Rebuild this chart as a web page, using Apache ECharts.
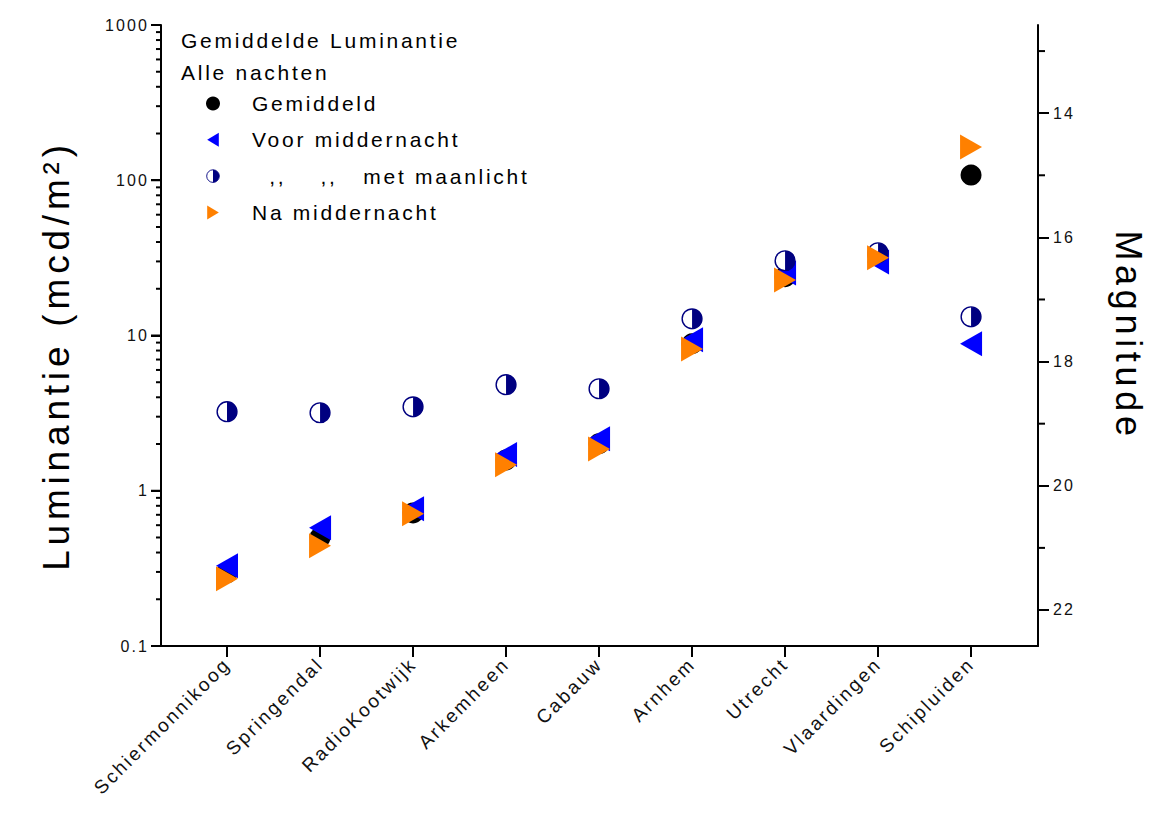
<!DOCTYPE html>
<html>
<head>
<meta charset="utf-8">
<script src="https://cdn.jsdelivr.net/npm/echarts@6/dist/echarts.min.js"></script>
<style>
html,body{margin:0;padding:0;background:#fff;}
#chart{width:1157px;height:815px;}
#chart text{letter-spacing:0.13em;white-space:pre;}
</style>
</head>
<body>
<div id="chart"></div>
<script>
// ---- data ----
const categories = ['Schiermonnikoog','Springendal','RadioKootwijk','Arkemheen','Cabauw','Arnhem','Utrecht','Vlaardingen','Schipluiden'];
const gemiddeld       = [0.296, 0.50, 0.72, 1.58, 2.01, 8.85, 23.9, 32.6, 108];
const voorMiddernacht = [0.329, 0.578, 0.766, 1.71, 2.16, 9.38, 25.3, 29.8, 8.85];
const metMaanlicht    = [3.23, 3.18, 3.47, 4.82, 4.54, 12.8, 30.3, 34.1, 13.2];
const naMiddernacht   = [0.271, 0.443, 0.711, 1.47, 1.86, 8.2, 22.8, 31.7, 164];
const lumTicks = [0.1, 1, 10, 100, 1000];
const lumMinorTicks = [0.2,0.3,0.4,0.5,0.6,0.7,0.8,0.9, 2,3,4,5,6,7,8,9, 20,30,40,50,60,70,80,90, 200,300,400,500,600,700,800,900];
const magLabels = [14, 16, 18, 20, 22];
const magMinorTicks = [13, 15, 17, 19, 21];
const seriesNames = ['Gemiddeld', 'Voor middernacht', '  ,,    ,,   met maanlicht', 'Na middernacht'];

const X_MIN = 0.29, X_MAX = 9.72;
const MAG_MIN = 12.58, MAG_MAX = 22.58;
const xPositions = categories.map((c, i) => i + 1);
const pairs = arr => arr.map((v, i) => [xPositions[i], v]);

const moonSvg = '<svg xmlns="http://www.w3.org/2000/svg" width="40" height="40" viewBox="0 0 40 40">' +
  '<circle cx="20" cy="20" r="18" fill="#ffffff" stroke="#000080" stroke-width="2.6"/>' +
  '<path d="M20 2 A18 18 0 0 1 20 38 Z" fill="#000080"/></svg>';
const moonSymbol = 'image://data:image/svg+xml;charset=utf-8,' + encodeURIComponent(moonSvg);
const leftTri = 'path://M20,0 L0,12 L20,24 Z';
const rightTri = 'path://M0,0 L20,12 L0,24 Z';

const FONT = '"Liberation Sans", Arial, sans-serif';
const line = () => ({color: '#000', width: 2});
const chart = echarts.init(document.getElementById('chart'), null, {renderer: 'svg'});

chart.setOption({
  animation: false,
  backgroundColor: '#fff',
  textStyle: {fontFamily: FONT},
  title: [
    {text: 'Gemiddelde Luminantie', left: 181, top: 30, padding: 0,
     textStyle: {fontSize: 21, fontWeight: 'normal', color: '#000', fontFamily: FONT}},
    {text: 'Alle nachten', left: 181, top: 62, padding: 0,
     textStyle: {fontSize: 21, fontWeight: 'normal', color: '#000', fontFamily: FONT}}
  ],
  legend: {
    orient: 'vertical', left: 206, top: 93, padding: 0,
    itemWidth: 14, itemHeight: 14, itemGap: 15.3,
    selectedMode: false,
    data: seriesNames,
    formatter: n => '{a|' + n + '}',
    textStyle: {color: '#000', fontFamily: FONT,
      rich: {a: {fontSize: 21, lineHeight: 22, padding: [0, 0, 0, 27], color: '#000', fontFamily: FONT}}}
  },
  grid: {left: 161, right: 119, top: 25, bottom: 169},
  xAxis: {
    type: 'value', min: X_MIN, max: X_MAX,
    axisLine: {onZero: false, lineStyle: line()},
    axisTick: {customValues: xPositions, length: 11, lineStyle: line()},
    axisLabel: {customValues: xPositions, formatter: v => categories[Math.round(v) - 1],
      rotate: 45, fontSize: 19, color: '#111', margin: 15, fontFamily: FONT},
    splitLine: {show: false}
  },
  yAxis: [
    {
      type: 'log', min: 0.1, max: 1000, interval: 1, position: 'left',
      axisLine: {show: true, onZero: false, lineStyle: line()},
      axisTick: {show: true, length: 10, lineStyle: line()},
      axisLabel: {fontSize: 16, color: '#111', margin: 12, fontFamily: FONT,
        formatter: v => String(+(+v).toPrecision(3))},
      splitLine: {show: false},
      name: 'Luminantie (mcd/m²)', nameLocation: 'middle', nameRotate: 90, nameGap: 86,
      nameTextStyle: {fontSize: 37, color: '#000', fontFamily: FONT, padding: [0, 40, 0, 0]}
    },
    {
      type: 'value', inverse: true, min: MAG_MIN, max: MAG_MAX, position: 'right',
      axisLine: {show: true, onZero: false, lineStyle: line()},
      axisTick: {show: true, customValues: magLabels, length: 11, lineStyle: line()},
      axisLabel: {customValues: magLabels, fontSize: 16, color: '#111', margin: 15, fontFamily: FONT},
      splitLine: {show: false},
      name: 'Magnitude', nameLocation: 'middle', nameRotate: -90, nameGap: 72,
      nameTextStyle: {fontSize: 36, color: '#000', fontFamily: FONT}
    }
  ],
  series: [
    {name: seriesNames[0], type: 'scatter', yAxisIndex: 0, data: pairs(gemiddeld),
     symbol: 'circle', symbolSize: 21, itemStyle: {color: '#000', opacity: 1}, emphasis: {disabled: true}},
    {name: seriesNames[1], type: 'scatter', yAxisIndex: 0, data: pairs(voorMiddernacht),
     symbol: leftTri, symbolSize: [22, 25], itemStyle: {color: '#0000ff', opacity: 1}, emphasis: {disabled: true}},
    {name: seriesNames[2], type: 'scatter', yAxisIndex: 0, data: pairs(metMaanlicht),
     symbol: moonSymbol, symbolSize: 22, itemStyle: {color: '#000080', opacity: 1}, emphasis: {disabled: true}},
    {name: seriesNames[3], type: 'scatter', yAxisIndex: 0, data: pairs(naMiddernacht),
     symbol: rightTri, symbolSize: [22, 25], itemStyle: {color: '#ff8000', opacity: 1}, emphasis: {disabled: true}}
  ]
});

// outward tick marks, positioned through the chart's own axis scales
const xLeft = chart.convertToPixel({xAxisIndex: 0}, X_MIN);
const xRight = chart.convertToPixel({xAxisIndex: 0}, X_MAX);
const tickMarks = [];
function addTicks(values, axisIndex, x0, dx) {
  values.forEach(v => {
    const y = chart.convertToPixel({yAxisIndex: axisIndex}, v);
    tickMarks.push({type: 'line', z: 100, silent: true,
      shape: {x1: x0, y1: y, x2: x0 + dx, y2: y},
      style: {stroke: '#000', lineWidth: 2}});
  });
}
addTicks(lumTicks, 0, xLeft, -10);
addTicks(lumMinorTicks, 0, xLeft, -5);
addTicks(magMinorTicks, 1, xRight, 7);
chart.setOption({graphic: tickMarks});
</script>
</body>
</html>
